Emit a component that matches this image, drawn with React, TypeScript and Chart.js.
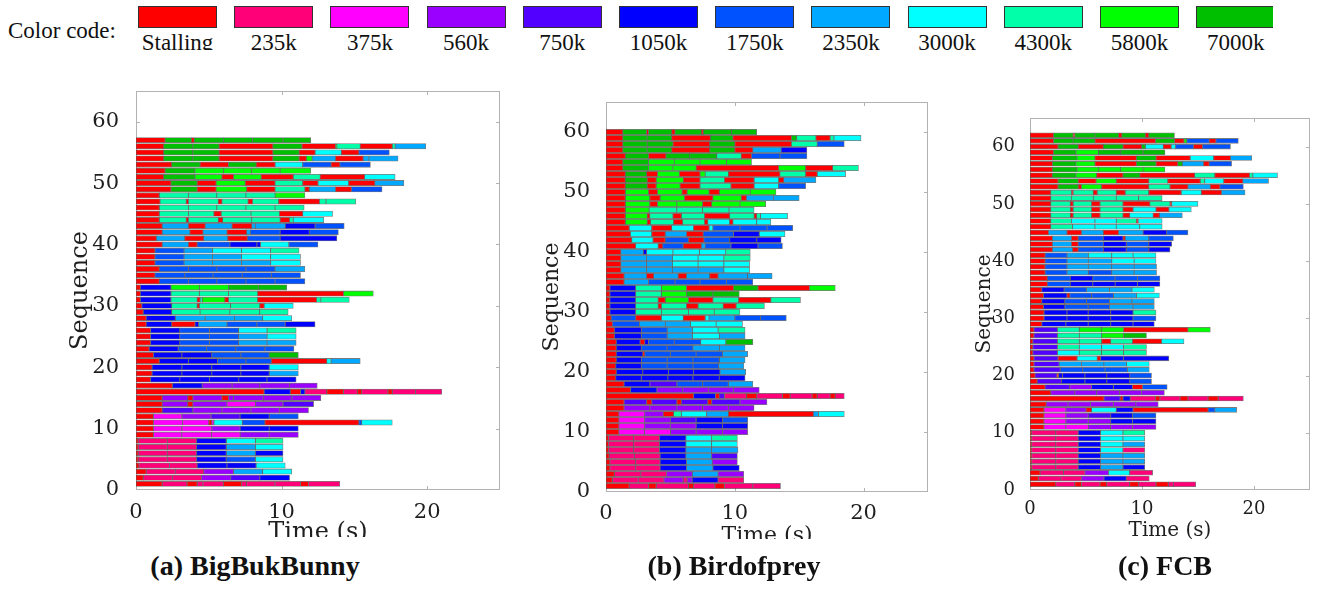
import React, { useEffect, useRef } from "react";
import { Chart, registerables } from "chart.js";

Chart.register(...registerables);

// ---- legend / levels ----
const levelCodes = ["R", "a", "b", "c", "d", "e", "f", "g", "h", "i", "j", "k"];
const levelLabels = ["Stalling", "235k", "375k", "560k", "750k", "1050k", "1750k", "2350k", "3000k", "4300k", "5800k", "7000k"];
const levelColors = ["#FF0000", "#FF0078", "#FF00FF", "#9A00FF", "#5200FF", "#0000FF", "#0052FF", "#00A8FF", "#00FFFF", "#00FFA8", "#00FF00", "#00BE00"];

// ---- axes ----
const xTickValues = [0, 10, 20];
const yTickValues = [0, 10, 20, 30, 40, 50, 60];
const xRange = [0, 25];
const yRange = [0, 65];

// ---- per-sequence segments: code + end time (s); row 1 first ----
const rowsBigBukBunny = [
  "R1.8 a3.5 R4.2 a4.6 a6.0 R7.25 a7.6 a9.55 a11.3 R11.85 a14.0",
  "R0.5 a2.5 a4.5 c6.5 d8.5 e10.55",
  "R0.7 a2.7 a4.65 c6.7 g8.7 h10.7",
  "R0.2 a2.3 a4.2 e6.25 e8.25 h10.25",
  "R0.15 a2.15 a4.15 e6.2 f8.2 h10.1",
  "R0.15 a2.15 a4.15 e6.2 g8.2 e10.1",
  "R0.15 a2.15 a4.15 e6.2 g8.2 h10.1",
  "R0.15 a2.15 a4.15 e6.2 h8.2 i10.1",
  "R1.2 b3.15 b5.2 b7.15 c9.15 c11.15",
  "R1.2 b3.15 b5.2 c7.15 e9.15 e11.15",
  "R1.2 b3.2 b5.0 R5.2 b5.35 h7.3 f8.85 R15.3 f15.5 h17.6",
  "R1.2 b3.15 c5.15 d7.15 e9.15 f11.15",
  "R1.8 d3.9 c5.9 c7.9 c9.85 c11.85",
  "R1.8 c3.55 R3.9 c6.25 b8.2 c10.1 d12.2",
  "R1.8 c3.55 R3.9 c5.9 R6.35 c6.7 c8.75 c10.7 c12.7",
  "R8.8 e10.6 R11.3 e11.6 a13.1 R14.25 a15.2 R15.5 a17.3 R17.6 a19.2 a21.0",
  "R2.5 e4.55 c6.6 c8.5 c10.55 c12.45",
  "R1.0 e3.0 e5.05 e7.05 e9.0 e11.0",
  "R1.1 e3.15 e5.2 e7.2 e9.15 g11.15",
  "R1.1 e3.15 e5.2 e7.2 e9.15 h11.15",
  "R1.6 e3.6 e5.6 f7.55 f9.3 R13.1 h13.4 g15.4",
  "R1.2 e3.15 e5.2 f7.2 f9.15 k11.15",
  "R0.9 e2.9 f4.85 f6.85 f8.85 f10.85",
  "R1.0 e3.0 f5.05 f7.05 g9.0 g11.0",
  "R1.0 e3.0 f5.05 f7.05 g9.0 h11.0",
  "R1.0 e3.0 f5.05 f7.05 h9.0 i11.0",
  "R0.7 e2.45 R4.05 e4.3 g6.25 f8.3 f10.25 e12.3",
  "R0.7 e2.7 g4.75 g6.75 g8.7 h10.7",
  "R0.5 e2.45 i4.4 i6.45 i8.5 i10.45",
  "R0.4 e2.45 i4.2 R4.35 i6.5 i8.5 R8.8 h10.8",
  "R0.3 e2.4 i4.2 R4.4 i4.55 j6.1 R6.35 i8.35 R12.4 i12.7 i14.65",
  "R0.3 e2.4 i4.35 i6.35 i8.35 R14.25 j16.3",
  "R0.3 e2.4 j4.35 j6.35 k8.4 k10.35",
  "R1.6 f3.6 f5.55 f7.55 f9.55 f11.6",
  "R1.3 f3.35 f5.3 f7.3 f9.3 f11.3",
  "R1.6 f3.6 f5.55 f7.55 f9.55 g11.6",
  "R1.3 f3.3 g5.25 g7.25 g9.25 h11.3",
  "R1.3 f3.3 g5.25 g7.25 h9.25 h11.3",
  "R1.3 f3.3 g5.25 h7.25 h9.25 i11.2",
  "R1.8 g3.6 R4.2 f6.45 e8.3 e8.55 h10.5 f12.5",
  "R1.4 g3.35 R4.65 g6.3 R7.65 f9.9 e13.8",
  "R1.8 g3.7 R4.6 g6.25 R7.6 g7.85 f9.9 e11.9 f13.9",
  "R1.8 g3.6 R4.75 g6.6 R7.95 g8.2 g10.25 e12.3 f14.3",
  "R1.6 i3.45 R3.6 i5.65 R5.95 i7.95 i9.9 R10.55 i10.8 h12.9",
  "R1.6 i3.6 i5.35 R5.85 i7.9 i9.85 R11.45 h13.5",
  "R1.6 i3.6 i5.55 i7.55 i9.55 i11.55",
  "R1.65 i3.45 R3.6 i5.65 R5.9 i7.7 R8.0 i9.8 R12.6 i13.05 i15.1",
  "R1.6 i3.6 i5.55 i7.55 i9.55 j11.6",
  "R2.4 k4.2 R5.5 j7.6 R9.55 i11.6 R11.9 g13.7 R14.8 f16.9",
  "R2.4 k4.2 R5.5 j7.5 R9.55 i11.45 R12.5 h14.6 R16.4 g18.4",
  "R1.9 k4.05 j5.9 R6.7 j8.6 R10.8 i12.65 R15.7 h17.8",
  "R2.0 k4.05 j6.0 j7.95 j9.9 j12.0",
  "R2.45 k4.4 R6.35 k8.25 R9.55 h11.45 f13.4 R14.0 f16.1",
  "R1.9 k3.9 k5.7 R9.4 k11.2 R11.7 j12.1 g13.7 R15.6 g16.0 g18.0",
  "R1.9 k3.9 k5.7 R9.4 k11.2 R12.3 h14.1 R15.3 f17.4",
  "R1.9 k3.9 k5.7 R9.4 k11.4 R13.7 k13.8 i15.4 R17.6 i17.8 g19.9",
  "R2.0 k3.8 R4.0 k6.0 k8.0 k10.1 k12.0",
];

const rowsBirdofprey = [
  "R1.8 a3.3 R3.9 a6.4 R6.8 a8.45 R9.2 a11.4 a13.55",
  "R0.5 a2.5 a4.5 c6.0 a6.3 c6.7 e8.7 a10.7",
  "R0.65 a2.7 a4.7 c6.7 g8.7 c10.7",
  "R0.3 a2.3 a4.2 e6.25 g8.3 e10.35",
  "R0.3 a2.3 a4.2 e6.25 g8.25 c10.2",
  "R0.25 a2.2 a4.2 e6.2 g8.2 d10.2",
  "R0.2 a2.15 a4.15 e6.2 g8.2 g10.25",
  "R0.2 a2.15 a4.15 e6.2 h8.2 h10.2",
  "R0.2 a2.15 a4.15 e6.2 h8.2 i10.2",
  "R1.0 b3.0 b5.0 c7.0 c9.05 c11.0",
  "R1.0 b3.0 c5.0 c7.0 e9.05 e11.0",
  "R1.0 b3.0 c5.0 d7.0 e9.05 f11.0",
  "R1.0 b3.0 c4.45 R5.25 i5.85 h7.8 g9.5 R16.1 g16.5 h18.5",
  "R1.4 c3.4 c5.5 c7.5 c9.5 c11.5",
  "R1.4 d3.15 R3.55 d5.5 R5.85 d7.9 R8.2 d10.4 c12.5",
  "R6.8 e8.5 R8.8 d9.2 a10.9 R11.7 a13.7 R14.3 a16.0 R16.4 a17.4 R17.8 a18.5",
  "R1.9 e3.95 c5.95 c7.95 c9.9 c11.9",
  "R1.4 e3.4 d5.5 f7.5 f9.5 g11.4",
  "R0.75 e2.75 e4.8 e6.75 e8.8 e10.8",
  "R0.8 e2.85 e4.85 e6.8 e8.85 g10.85",
  "R0.75 e2.75 f4.75 f6.75 f8.75 g10.7",
  "R0.8 e2.75 f4.75 f6.75 f8.8 g10.8",
  "R0.8 e2.85 R3.0 f5.0 f7.0 f9.05 g11.0",
  "R0.8 e2.75 f4.75 f6.75 g8.8 g10.8",
  "R0.8 e2.65 R3.0 e3.3 f5.3 f7.35 h9.3 k11.4",
  "R0.65 e2.75 f4.75 g6.7 h8.8 g10.8",
  "R0.65 e2.75 f4.75 g6.7 h8.7 i10.8",
  "R0.5 f2.6 g4.6 g6.55 h8.55 h10.6",
  "R0.4 f2.3 R4.3 h6.0 R7.7 h8.0 g10.0 f12.0 f14.0",
  "R0.3 e2.3 i4.3 i6.4 i8.4 i10.4",
  "R0.3 e2.3 i4.05 R4.3 i6.25 R7.15 i9.1 R10.1 i12.3",
  "R0.3 e2.3 i4.05 R4.6 j6.4 R8.3 i10.3 R12.8 i15.1",
  "R0.3 e2.3 i4.3 j6.25 k8.3 k10.35",
  "R0.3 e2.3 i4.3 j6.25 R9.9 k11.8 R15.8 j17.8",
  "R1.4 g3.3 f5.35 f7.3 f9.35 f11.4",
  "R1.4 g3.15 R3.7 g5.6 R6.25 g8.05 R8.7 g11.0 g12.9",
  "R1.15 g3.15 g5.15 g7.15 g9.15 h11.15",
  "R1.15 g3.15 g5.15 h7.15 h9.15 h11.15",
  "R1.15 g3.15 g5.15 h7.15 h9.15 i11.2",
  "R1.15 g2.9 e3.15 h5.2 h7.25 h9.3 i11.2",
  "R2.3 h4.05 R4.4 f6.0 R7.4 g7.7 f9.7 e11.8 f13.7",
  "R2.0 h3.65 R4.6 f6.4 R7.6 f9.6 e11.7 e13.6",
  "R1.9 h3.55 R4.6 g6.25 R7.55 f9.9 e11.9 h13.9",
  "R1.8 h3.55 R5.1 h6.8 R8.0 h8.3 f10.4 f12.5 f14.5",
  "R1.5 j3.2 R3.45 i5.25 R5.95 i7.65 R7.9 h9.6 R9.85 h11.7 h12.8",
  "R1.5 j3.2 R3.4 i5.2 R5.85 i7.65 R9.6 i11.5 R11.7 i12.0 h14.1",
  "R1.5 j3.35 i5.5 i7.5 i9.55 i11.5",
  "R1.5 j3.4 R4.0 j5.5 j7.5 R8.2 j10.4 j12.4",
  "R1.5 j3.4 R4.2 j6.1 R8.3 j10.5 R10.9 g13.0 g15.0",
  "R1.5 j3.3 R4.0 j5.9 R6.3 j8.0 R8.8 j11.2 j13.2",
  "R1.5 k3.2 R3.9 j5.75 R7.3 i9.7 R11.5 h13.4 f15.5",
  "R1.5 k3.2 R3.9 j6.0 R7.3 i9.2 R11.5 h13.4 R13.8 g16.3",
  "R1.5 k3.15 R4.0 j5.7 R7.3 j7.7 i9.5 R13.5 i15.5 R16.4 h18.6",
  "R1.3 k3.3 j5.2 j7.0 R13.4 j15.5 R17.6 i19.6",
  "R1.3 k3.3 j5.3 j7.3 j9.35 j11.3",
  "R1.5 k3.3 R4.65 k6.5 k8.6 i10.5 R11.3 f13.5 f15.6",
  "R1.3 k3.2 k5.1 R8.05 k10.0 R11.4 g13.6 e15.6",
  "R1.3 k3.2 k5.2 R8.05 k10.0 R14.4 i16.4 f18.5",
  "R1.3 k3.2 k5.1 R8.1 k9.85 R14.4 k14.8 i16.3 R17.4 i17.7 h19.8",
  "R1.3 k3.15 R3.3 k5.1 R5.35 k7.4 R7.55 k9.75 k11.7",
];

const rowsFCB = [
  "R2.3 a4.0 R4.6 a6.25 R6.85 a8.9 R9.7 a11.25 R12.35 a12.8 a14.8",
  "R0.75 a2.75 a4.6 c6.6 e8.6 a10.65",
  "R0.9 a3.0 a4.9 c7.0 h8.9 a10.95",
  "R0.15 a2.3 a4.3 e6.3 g8.3 e10.25",
  "R0.15 a2.3 a4.3 e6.3 g8.3 g10.25",
  "R0.15 a2.3 a4.3 e6.3 g8.3 g10.25",
  "R0.15 a2.3 a4.3 e6.3 h8.3 a10.25",
  "R0.15 a2.3 a4.3 e6.3 h8.3 g10.25",
  "R0.15 a2.3 a4.3 e6.3 h8.3 h10.25",
  "R0.15 a2.3 a4.3 e6.3 h8.3 i10.25",
  "R1.25 b3.2 b5.2 c7.2 c9.15 c11.25",
  "R1.25 b3.2 c5.2 c7.2 e9.15 e11.25",
  "R1.25 b3.2 c5.2 d7.2 e9.15 f11.25",
  "R1.25 b3.2 c5.0 R5.5 h7.7 e9.2 R15.9 f16.5 g18.45",
  "R1.45 c3.4 c5.4 c7.45 c9.45 c11.45",
  "R6.6 d8.05 R8.3 e8.95 a11.2 R11.6 a13.4 R14.1 a15.9 R16.8 a19.05",
  "R1.85 c4.0 c5.95 c8.0 c9.95 c12.0",
  "R1.35 d3.55 c5.5 e7.45 e9.15 R10.05 f12.25",
  "R0.65 d2.8 e4.9 e6.85 e8.9 f10.85",
  "R0.45 d2.4 R2.55 e2.9 e4.9 e6.85 e8.9 f10.85",
  "R0.35 d2.7 f4.7 f6.7 f8.7 g10.65",
  "R0.35 d2.6 g4.6 g6.6 g8.6 h10.65",
  "R0.35 d2.5 R4.2 h6.0 R6.3 e8.35 e12.4",
  "R0.25 d2.45 h4.4 i6.4 i8.35 i10.4",
  "R0.25 d2.45 i4.4 h6.4 h8.35 i10.4",
  "R0.25 d2.45 i4.4 i6.4 R7.2 i9.15 R11.75 h13.75",
  "R0.35 d2.45 i4.4 i6.4 j8.35 k10.4",
  "R0.35 d2.45 i4.4 j6.4 j8.35 R14.1 j16.1",
  "R1.05 e3.2 e5.2 e7.2 e9.2 e11.1",
  "R1.25 e3.3 e5.2 e7.2 e9.2 f11.25",
  "R1.25 e3.3 e5.2 e7.2 e9.2 i11.25",
  "R1.2 e3.1 f5.2 f7.1 g9.2 g11.1",
  "R1.05 e3.1 f5.05 f7.1 g9.1 g11.1",
  "R1.2 e3.3 R3.55 f5.5 f7.45 g9.5 h11.55",
  "R1.05 e3.05 f5.05 g7.1 g9.1 h11.1",
  "R1.55 f3.6 e5.6 e7.6 e9.6 e11.6",
  "R1.55 f3.6 e5.6 f7.6 f9.6 f11.6",
  "R1.35 f3.3 g5.2 f7.3 g9.3 g11.3",
  "R1.35 f3.3 g5.2 g7.3 g9.3 g11.3",
  "R1.35 f3.3 g5.2 g7.3 h9.3 h11.25",
  "R1.35 f3.3 g5.2 h7.3 h9.2 h11.25",
  "R2.0 g3.8 R4.3 f6.55 e8.6 f10.6 e12.5",
  "R2.0 g3.7 R4.3 f6.55 e8.6 f10.6 e12.65",
  "R2.0 g3.7 R4.3 f6.55 e8.3 R8.5 g10.6 f12.8",
  "R1.65 g3.3 R4.6 g6.55 R7.9 g10.1 e12.2 f14.1",
  "R1.85 i3.8 h5.8 h7.7 h9.8 h11.8",
  "R1.85 i3.7 h5.8 h7.7 i9.5 R9.65 h11.8",
  "R1.85 i3.6 R3.85 i5.5 R6.25 i8.3 R8.9 h11.0 R11.55 g13.6",
  "R1.85 i3.6 R3.85 i5.5 R6.25 i8.3 R9.2 h11.25 R12.4 h14.4",
  "R1.85 i3.6 R3.85 i5.5 R6.25 i8.3 R10.7 i12.5 R12.65 h15.0",
  "R1.85 i3.7 i5.65 i7.7 i9.7 i11.8",
  "R1.85 i3.7 R3.85 i5.65 R6.0 i7.7 R8.5 i10.6 R13.5 h15.3 R17.1 g19.2",
  "R2.5 k4.3 R4.6 j6.4 R10.6 i12.5 R14.1 g16.1 R16.95 f19.05",
  "R2.5 k4.3 R5.9 j7.7 R10.6 i12.3 R15.2 i15.6 h17.3 R19.0 g21.3",
  "R2.0 k4.1 j5.95 R8.3 k9.8 R14.7 i16.5 R19.6 i19.9 h22.1",
  "R2.0 k4.2 j6.1 j8.1 j10.1 j12.05",
  "R2.0 k4.1 j5.8 R9.5 k11.25 R13.2 k13.6 g15.5 R16.0 f18.0",
  "R2.0 k4.2 j5.8 R9.5 k11.25 R14.3 h16.4 R17.9 g19.8",
  "R2.1 k4.1 j6.1 k8.1 k10.1 k12.05",
  "R2.5 k4.3 R6.55 k8.3 R9.97 k10.3 h11.9 R12.6 h13.0 f14.6 R15.4 f17.9",
  "R2.1 k3.85 k5.8 R11.2 k12.9 R13.75 j14.0 f16.0 R16.6 f18.6",
  "R2.1 k3.85 R4.0 k5.8 k7.9 R8.2 k10.3 R10.6 k12.9",
];

const captions = ["(a) BigBukBunny", "(b) Birdofprey", "(c) FCB"];
const xTitle = "Time (s)";
const yTitle = "Sequence";

function buildDatasets(rows: string[], barT: number) {
  const buckets: any[][] = levelCodes.map(() => []);
  rows.forEach((row, r) => {
    let prev = 0;
    row.trim().split(/\s+/).forEach((tok) => {
      const li = levelCodes.indexOf(tok[0]);
      const end = parseFloat(tok.slice(1));
      if (li >= 0) buckets[li].push({ x: [prev, end], y: r + 1 });
      prev = end;
    });
  });
  return levelCodes.map((_, li) => ({
    label: levelLabels[li],
    data: buckets[li],
    backgroundColor: levelColors[li],
    borderColor: "rgba(35,35,35,0.6)",
    borderWidth: 0.8,
    borderSkipped: false,
    barThickness: barT,
    grouped: false,
  }));
}

const framePlugin = {
  id: "frame",
  beforeDatasetsDraw(chart: any) {
    const { ctx, chartArea: a, scales } = chart;
    ctx.save();
    ctx.strokeStyle = "#b2b2b2";
    ctx.lineWidth = 1;
    ctx.strokeRect(a.left + 0.5, a.top + 0.5, a.right - a.left - 1, a.bottom - a.top - 1);
    const L = 4;
    ctx.beginPath();
    xTickValues.forEach((v) => {
      if (v === xRange[0]) return;
      const px = Math.round(scales.x.getPixelForValue(v)) + 0.5;
      ctx.moveTo(px, a.top);
      ctx.lineTo(px, a.top + L);
      ctx.moveTo(px, a.bottom);
      ctx.lineTo(px, a.bottom - L);
    });
    yTickValues.forEach((v) => {
      if (v === yRange[0]) return;
      const py = Math.round(scales.y.getPixelForValue(v)) + 0.5;
      ctx.moveTo(a.left, py);
      ctx.lineTo(a.left + L, py);
      ctx.moveTo(a.right, py);
      ctx.lineTo(a.right - L, py);
    });
    ctx.stroke();
    ctx.restore();
  },
};

type PanelCfg = {
  rows: string[];
  left: number; top: number; width: number; height: number; clipH: number;
  padTop: number; padRight: number; yW: number; xH: number;
  tickSize: number; yTickPad: number; xTickPad: number;
  titleSize: number; yTitlePad: number; xTitlePad: number; barT: number;
};

const panels: PanelCfg[] = [
  { rows: rowsBigBukBunny, left: 50, top: 80, width: 470, height: 480, clipH: 457,
    padTop: 11, padRight: 20, yW: 86, xH: 70, tickSize: 21, yTickPad: 9, xTickPad: 2,
    titleSize: 24, yTitlePad: 16.6, xTitlePad: 12.6, barT: 5.3 },
  { rows: rowsBirdofprey, left: 520, top: 90, width: 430, height: 470, clipH: 449,
    padTop: 12, padRight: 22, yW: 86, xH: 68, tickSize: 21, yTickPad: 8, xTickPad: 1,
    titleSize: 22, yTitlePad: 18.8, xTitlePad: 11, barT: 5.2 },
  { rows: rowsFCB, left: 950, top: 105, width: 372, height: 455, clipH: 455,
    padTop: 13, padRight: 12, yW: 80, xH: 70, tickSize: 18, yTickPad: 7, xTickPad: 1,
    titleSize: 20, yTitlePad: 23, xTitlePad: 17, barT: 4.9 },
];

const FONT = "'DejaVu Serif', serif";

function Panel({ cfg }: { cfg: PanelCfg }) {
  const ref = useRef<HTMLCanvasElement | null>(null);
  useEffect(() => {
    if (!ref.current) return;
    const chart = new Chart(ref.current, {
      type: "bar",
      data: { datasets: buildDatasets(cfg.rows, cfg.barT) as any },
      options: {
        indexAxis: "y",
        animation: false,
        responsive: false,
        maintainAspectRatio: false,
        devicePixelRatio: 1,
        layout: { padding: { top: cfg.padTop, right: cfg.padRight, left: 0, bottom: 0 } },
        plugins: { legend: { display: false }, tooltip: { enabled: false } },
        scales: {
          x: {
            type: "linear",
            position: "bottom",
            min: xRange[0],
            max: xRange[1],
            offset: false,
            grid: { display: false },
            border: { display: false },
            ticks: {
              stepSize: 10,
              includeBounds: false,
              color: "#1e1e1e",
              padding: cfg.xTickPad,
              maxRotation: 0,
              font: { family: FONT, size: cfg.tickSize },
            },
            title: {
              display: true,
              text: xTitle,
              color: "#1e1e1e",
              font: { family: FONT, size: cfg.titleSize },
              padding: { top: 0, bottom: cfg.xTitlePad },
            },
            afterFit: (s: any) => {
              s.height = cfg.xH;
              s.paddingLeft = 0;
              s.paddingRight = 0;
            },
          },
          y: {
            type: "linear",
            position: "left",
            min: yRange[0],
            max: yRange[1],
            offset: false,
            grid: { display: false, offset: false },
            border: { display: false },
            ticks: {
              stepSize: 10,
              includeBounds: false,
              color: "#1e1e1e",
              padding: cfg.yTickPad,
              font: { family: FONT, size: cfg.tickSize },
            },
            title: {
              display: true,
              text: yTitle,
              color: "#1e1e1e",
              font: { family: FONT, size: cfg.titleSize },
              padding: { top: cfg.yTitlePad, bottom: 0 },
            },
            afterFit: (s: any) => {
              s.width = cfg.yW;
              s.paddingTop = 0;
              s.paddingBottom = 0;
            },
          },
        },
      } as any,
      plugins: [framePlugin],
    });
    return () => chart.destroy();
  }, [cfg]);
  return (
    <div style={{ position: "absolute", left: cfg.left, top: cfg.top, width: cfg.width, height: cfg.clipH, overflow: "hidden" }}>
      <canvas ref={ref} width={cfg.width} height={cfg.height} style={{ width: cfg.width, height: cfg.height, display: "block" }} />
    </div>
  );
}

const SERIF = "'Liberation Serif', 'Times New Roman', serif";
const captionCenters = [255, 734, 1165];

export default function App() {
  return (
    <div style={{ position: "absolute", left: 0, top: 0, width: 1322, height: 592, overflow: "hidden", background: "#fff" }}>
      <div style={{ position: "absolute", left: 0, top: 0, width: 1273, height: 50, overflow: "hidden" }}>
        <div style={{ position: "absolute", left: 8, top: 19, fontFamily: SERIF, fontSize: 23, lineHeight: "23px", color: "#111", whiteSpace: "nowrap" }}>
          Color code:
        </div>
        {levelLabels.map((lab, i) => {
          const x = 138 + 96.2 * i;
          return (
            <React.Fragment key={lab}>
              <div style={{ position: "absolute", left: x, top: 6, width: 79, height: 22, boxSizing: "border-box", border: "1.5px solid #333", background: levelColors[i] }} />
              <div style={{ position: "absolute", left: x - 20, top: 31, width: 119, textAlign: "center", fontFamily: SERIF, fontSize: 23, lineHeight: "23px", color: "#111", whiteSpace: "nowrap" }}>
                {lab}
              </div>
            </React.Fragment>
          );
        })}
      </div>
      {panels.map((p, i) => <Panel key={i} cfg={p} />)}
      {captions.map((c, i) => (
        <div key={c} style={{ position: "absolute", left: captionCenters[i] - 150, top: 552, width: 300, textAlign: "center", fontFamily: SERIF, fontWeight: "bold", fontSize: 28, lineHeight: "28px", color: "#111", whiteSpace: "nowrap" }}>
          {c}
        </div>
      ))}
    </div>
  );
}
